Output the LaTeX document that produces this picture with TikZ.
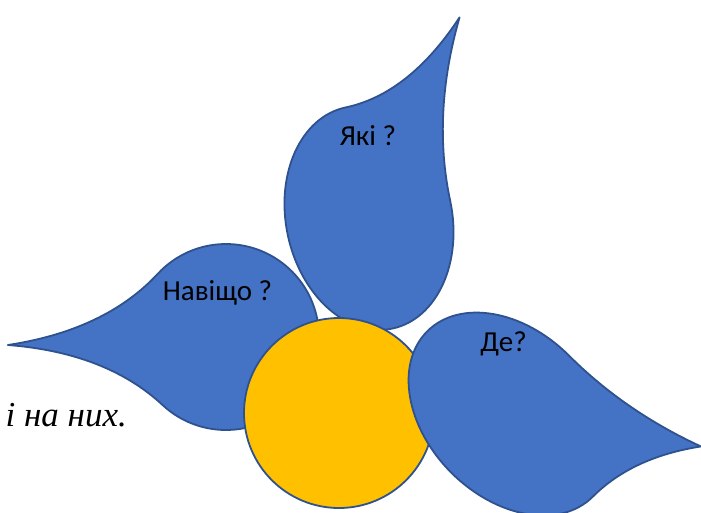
\documentclass[tikz,border=0pt]{standalone}
\usepackage{fontspec}
\setmainfont{Carlito}
\newfontfamily\bodyserif{Liberation Serif}
\definecolor{petalblue}{HTML}{4472C4}
\definecolor{edgeblue}{HTML}{2F528F}
\definecolor{coreyellow}{HTML}{FFC000}
\tikzset{
  petal/.style={fill=petalblue, draw=edgeblue, line width=1.8pt, line join=round},
  core/.style={fill=coreyellow, draw=edgeblue, line width=1.8pt},
  label/.style={font=\fontsize{29}{33}\selectfont, text=black, inner sep=0pt, anchor=base},
}
% teardrop: centre x, centre y, rotation, x radius, y radius, tip factor
\newcommand{\teardrop}[6]{%
  \begin{scope}[shift={(#1,#2)}, rotate=#3, xscale=#4, yscale=#5]
    \pgfmathsetmacro\tipA{#6}
    \pgfmathsetmacro\tipB{#6/3}
    \pgfmathsetmacro\tipC{2*#6/3}
    \pgfmathsetmacro\tipD{#6/3+2/3}
    \draw[petal] (0,-1) .. controls (\tipB,-1) and (\tipC,-\tipD) .. (\tipA,-\tipA)
      .. controls (\tipD,-\tipC) and (1,-\tipB) .. (1,0)
      arc[start angle=0, end angle=270, radius=1] -- cycle;
  \end{scope}}
\begin{document}
\begin{tikzpicture}[x=1pt, y=-1pt]
  \useasboundingbox (0,0) rectangle (701,512);
  \clip (0,0) rectangle (701,512);
  \fill[white] (0,0) rectangle (701,512);

  % running text behind the flower
  \node[font=\bodyserif\itshape\fontsize{35}{40}\selectfont, inner sep=0pt, anchor=base east]
    (txt) at (127,426.5) {і на них.};

  % left petal
  \teardrop{226}{337}{137.1}{93}{93}{1.66}
  % upper petal
  \teardrop{369}{218}{12}{83}{113}{1.57}
  % flower centre
  \draw[core] (339,413) circle[radius=95];
  \node[inner sep=0pt] (core) at (339,413) {};
  % right petal
  \teardrop{510}{414}{-45}{117}{83}{1.35}

  \node[label] (why) at (217.5,300.7) {Навіщо ?};
  \node[label] (which) at (368,145.7) {Які ?};
  \node[label] (where) at (503.5,351.5) {Де?};
\end{tikzpicture}
\end{document}
